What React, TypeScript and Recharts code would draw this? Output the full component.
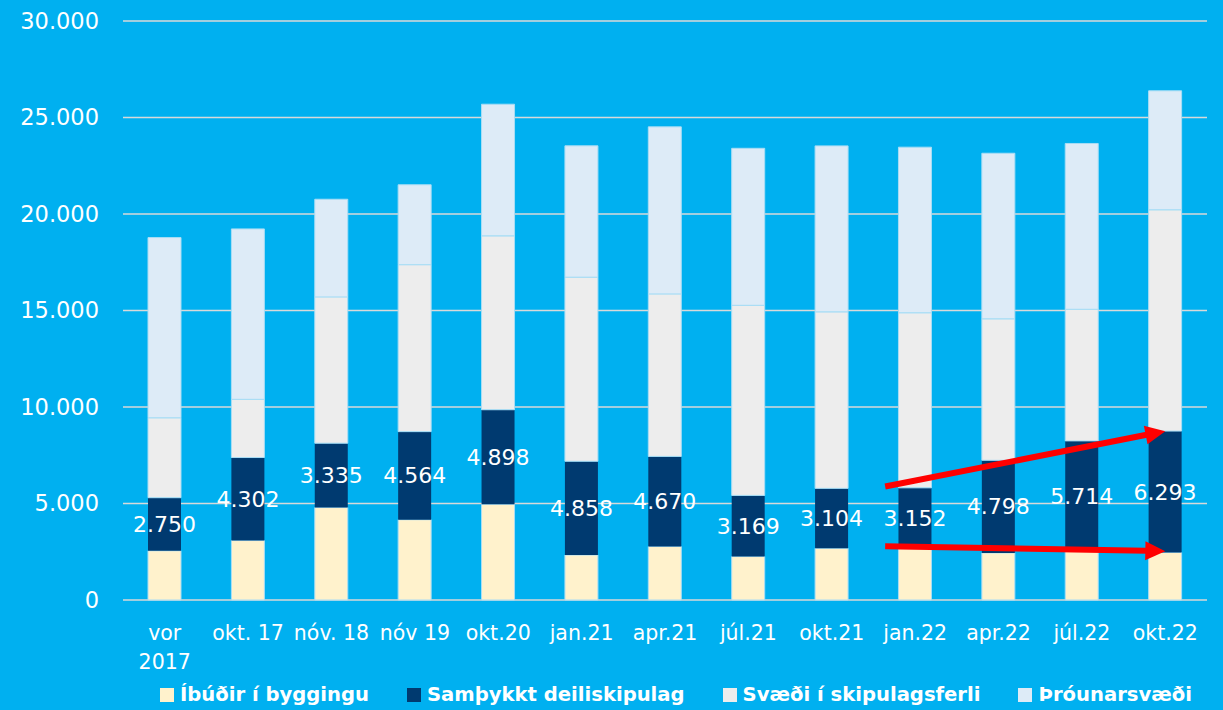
import React from 'react';
import {
  BarChart, Bar, XAxis, YAxis, CartesianGrid, Legend, LabelList, ReferenceLine,
} from 'recharts';

// categories (a "\n" marks where the tick label wraps)
const categories = [
  'vor\n2017', 'okt. 17', 'nóv. 18', 'nóv 19', 'okt.20', 'jan.21', 'apr.21',
  'júl.21', 'okt.21', 'jan.22', 'apr.22', 'júl.22', 'okt.22',
];
const ibudir = [2550, 3080, 4790, 4160, 4960, 2330, 2770, 2250, 2680, 2660, 2440, 2530, 2460];
const samthykkt = [2750, 4302, 3335, 4564, 4898, 4858, 4670, 3169, 3104, 3152, 4798, 5714, 6293];
const skipulagsferli = [4140, 3015, 7580, 8650, 9010, 9540, 8420, 9850, 9145, 9070, 7330, 6820, 11465];
const throunarsvaedi = [9340, 8830, 5060, 4140, 6820, 6805, 8655, 8135, 8600, 8580, 8580, 8590, 6165];
const yTicks = [0, 5000, 10000, 15000, 20000, 25000, 30000];

// red trend arrows drawn over the last bars
const arrows = [
  { from: { x: 'jan.22', y: 5880 }, to: { x: 'okt.22', y: 8750 } },
  { from: { x: 'jan.22', y: 2790 }, to: { x: 'okt.22', y: 2530 } },
];

const series = [
  { key: 'ibudir', name: 'Íbúðir í byggingu', color: '#FFF2CC' },
  { key: 'samthykkt', name: 'Samþykkt deiliskipulag', color: '#003A70' },
  { key: 'skipulagsferli', name: 'Svæði í skipulagsferli', color: '#EDEDED' },
  { key: 'throunarsvaedi', name: 'Þróunarsvæði', color: '#DDEBF7' },
];

const data = categories.map((name, i) => ({
  name,
  ibudir: ibudir[i],
  samthykkt: samthykkt[i],
  skipulagsferli: skipulagsferli[i],
  throunarsvaedi: throunarsvaedi[i],
}));

const BG = '#00B0F0';
const FONT = '"DejaVu Sans", sans-serif';

const fmt = (v: any) => String(v).replace(/\B(?=(\d{3})+(?!\d))/g, '.');

function CategoryTick({ x, y, payload }: any) {
  const lines = String(payload.value).split('\n');
  return (
    <text x={x} y={y} textAnchor="middle" fill="#fff" fontSize={20.5} fontFamily={FONT}>
      {lines.map((l, i) => (
        <tspan key={i} x={x} dy={i === 0 ? 40 : 28.5}>{l}</tspan>
      ))}
    </text>
  );
}

function Arrow(props: any) {
  const { x1, y1, x2, y2 } = props;
  const sx = x1 - 30; // arrow starts a bit left of the jan.22 bar
  const dx = x2 - sx;
  const dy = y2 - y1;
  const len = Math.hypot(dx, dy);
  const ux = dx / len;
  const uy = dy / len;
  const head = 20;
  const half = 9.5;
  const bx = x2 - ux * head;
  const by = y2 - uy * head;
  return (
    <g>
      <line x1={sx} y1={y1} x2={bx + ux} y2={by + uy} stroke="#FF0000" strokeWidth={6} />
      <polygon
        points={`${x2},${y2} ${bx - uy * half},${by + ux * half} ${bx + uy * half},${by - ux * half}`}
        fill="#FF0000"
      />
    </g>
  );
}

function renderLegend() {
  return (
    <div
      style={{
        display: 'flex', alignItems: 'center', height: 30, paddingLeft: 160,
        gap: 38, fontFamily: FONT, fontWeight: 700, fontSize: 19.6, color: '#fff',
      }}
    >
      {series.map((s) => (
        <div key={s.key} style={{ display: 'flex', alignItems: 'center', gap: 6 }}>
          <span style={{ width: 14, height: 14, background: s.color, display: 'inline-block' }} />
          <span style={{ lineHeight: '30px', whiteSpace: 'nowrap' }}>{s.name}</span>
        </div>
      ))}
    </div>
  );
}

export default function App() {
  return (
    <div
      style={{
        position: 'absolute', left: 0, top: 0, width: 1223, height: 710,
        background: BG, fontFamily: FONT, overflow: 'hidden',
      }}
    >
      <BarChart
        width={1223}
        height={710}
        data={data}
        barSize={33}
        margin={{ top: 21, right: 16, left: 0, bottom: 0 }}
      >
        <CartesianGrid vertical={false} stroke="#D9D9D9" strokeWidth={1.5} />
        <XAxis
          dataKey="name"
          height={80}
          interval={0}
          axisLine={false}
          tickLine={false}
          tickSize={0}
          tickMargin={0}
          tick={<CategoryTick />}
        />
        <YAxis
          width={123}
          domain={[0, 30000]}
          ticks={yTicks}
          tickFormatter={fmt}
          axisLine={false}
          tickLine={false}
          tickSize={0}
          tickMargin={24}
          tick={{ fill: '#fff', fontSize: 22.5, fontFamily: FONT }}
        />
        <Legend verticalAlign="bottom" height={30} content={renderLegend} wrapperStyle={{ left: 0, width: 1223, bottom: 0 }} />
        {series.map((s) => (
          <Bar
            key={s.key}
            dataKey={s.key}
            name={s.name}
            stackId="a"
            fill={s.color}
            stroke={s.key === 'samthykkt' ? 'none' : '#A8DDF5'}
            strokeWidth={1}
            isAnimationActive={false}
          >
            {s.key === 'samthykkt' && (
              <LabelList
                dataKey="samthykkt"
                position="center"
                fill="#fff"
                fontSize={22}
                fontFamily={FONT}
                formatter={fmt}
              />
            )}
          </Bar>
        ))}
        {arrows.map((a, i) => (
          <ReferenceLine key={i} segment={[a.from, a.to]} shape={Arrow} ifOverflow="visible" />
        ))}
      </BarChart>
    </div>
  );
}
